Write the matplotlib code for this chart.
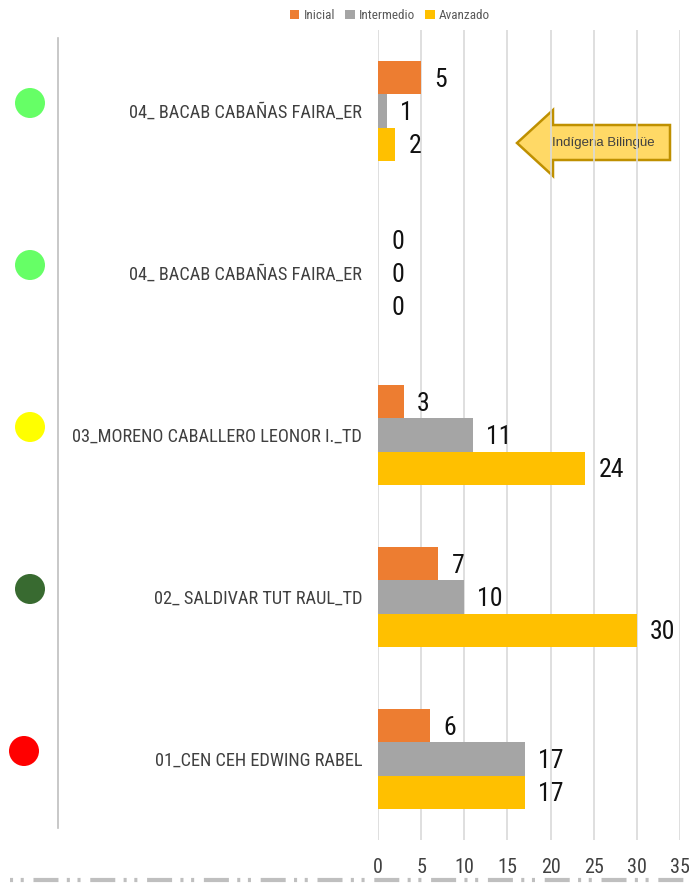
import numpy as np
import matplotlib
matplotlib.use("Agg")
import matplotlib.pyplot as plt
from matplotlib import font_manager as fm
from matplotlib.patches import Patch, Polygon, Circle
from matplotlib.lines import Line2D

plt.rcParams["lines.scale_dashes"] = False

# rows listed top to bottom
categories = [
    "04_ BACAB CABAÑAS FAIRA_ER",
    "04_ BACAB CABAÑAS FAIRA_ER",
    "03_MORENO CABALLERO LEONOR I._TD",
    "02_ SALDIVAR TUT RAUL_TD",
    "01_CEN CEH EDWING RABEL",
]
inicial = [5, 0, 3, 7, 6]
intermedio = [1, 0, 11, 10, 17]
avanzado = [2, 0, 24, 30, 17]
series_names = ["Inicial", "Intermedio", "Avanzado"]
series_colors = ["#ED7D31", "#A5A5A5", "#FFC000"]
status_colors = ["#66FF66", "#66FF66", "#FFFF00", "#386A30", "#FF0000"]
xticks = [0, 5, 10, 15, 20, 25, 30, 35]


def pick_font():
    """Prefer a narrow sans face if one is installed, else Lato."""
    wanted = ["Liberation Sans Narrow", "Roboto Condensed", "Open Sans Condensed",
              "DejaVu Sans", "Noto Sans", "Open Sans", "Roboto"]
    for name in wanted:
        for f in fm.fontManager.ttflist:
            if f.name != name or f.style != "normal" or f.weight not in (400, "normal"):
                continue
            if "Narrow" in name or "Condensed" in name:
                return name, f.stretch
            if f.stretch in ("condensed", "semi-condensed"):
                return name, f.stretch
    return "Lato", "normal"


FONT, STRETCH = pick_font()
plt.rcParams["font.family"] = [FONT, "DejaVu Sans"]
plt.rcParams["font.stretch"] = STRETCH

W, H = 689, 888
fig = plt.figure(figsize=(W / 100, H / 100), dpi=100)

# background layer in pixel coordinates for the free shapes
bg = fig.add_axes([0, 0, 1, 1], zorder=0)
bg.set_xlim(0, W)
bg.set_ylim(H, 0)
bg.axis("off")

ax = fig.add_axes([378 / W, 1 - 840 / H, (680 - 378) / W, 810 / H], zorder=1)
ax.patch.set_alpha(0)

y = np.arange(len(categories))
h = 0.204
for k, (vals, color) in enumerate(zip([inicial, intermedio, avanzado], series_colors)):
    pos = y + (k - 1) * h
    ax.barh(pos, vals, height=h, color=color, zorder=2)
    for p, v in zip(pos, vals):
        ax.annotate(str(v), (v, p), xytext=(9.5, -1.5), textcoords="offset points",
                    va="center", ha="left", fontsize=18.5, color="#111111")

ax.set_xlim(0, 35)
ax.set_ylim(len(categories) - 0.5, -0.5)
ax.set_xticks(xticks)
ax.set_yticks(y)
ax.set_yticklabels(categories)
ax.tick_params(axis="y", length=0, pad=11.5, labelsize=13.2, labelcolor="#404040")
ax.tick_params(axis="x", length=0, pad=13, labelsize=14.5, labelcolor="#404040")
ax.grid(axis="x", color="#D9D9D9", lw=1.2, zorder=0)
for s in ax.spines.values():
    s.set_visible(False)

# status dots, one per row, a little above the row centre
for row, c in zip(y, status_colors):
    x0 = 24 if row == len(y) - 1 else 30
    disp = ax.transData.transform((0, row))
    px_y = H - disp[1] - 8
    bg.add_patch(Circle((x0, px_y), 15, color=c, lw=0))

# left rule
bg.plot([58, 58], [38, 828], color="#BFBFBF", lw=1.2)

# dash-dot rule under the value axis
bg.add_line(Line2D([10, W], [880, 880], color="#BFBFBF", lw=3,
                   linestyle=(0, (2.2, 5.5, 2.2, 7.0, 18, 6.0))))

# callout arrow
arrow = Polygon([(517, 143), (553, 110), (553, 125), (670, 125), (670, 160),
                 (553, 160), (553, 176)], closed=True, facecolor="#FFD966",
                edgecolor="#BF9000", lw=1.8, zorder=3)
bg.add_patch(arrow)
bg.text(603, 143, "Indígena Bilingüe", ha="center", va="center", fontsize=9.5,
        color="#404040", family=["Liberation Sans", "DejaVu Sans"], stretch="normal",
        zorder=4)

handles = [Patch(facecolor=c, edgecolor="none") for c in series_colors]
fig.legend(handles, series_names, loc="upper center", bbox_to_anchor=(390 / W, 1.0),
           ncol=3, frameon=False, fontsize=9.5, handlelength=0.7, handleheight=0.7,
           handletextpad=0.3, columnspacing=0.8, labelcolor="#595959",
           borderaxespad=0.3)

fig.savefig("out.png", dpi=100)
